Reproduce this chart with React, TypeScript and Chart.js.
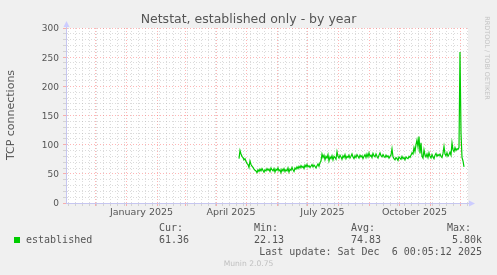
import React, { useEffect, useRef } from "react";
import { Chart, registerables } from "chart.js";

Chart.register(...registerables);

// Days counted from 1 Jan 2025 (day 0)
const seriesStartDay = 113;
const established: number[] = [
  76, 90, 84, 80, 78, 74, 76, 71, 68, 66, 61, 72, 66,
  63, 61, 58, 56, 55, 52, 57, 54, 58, 55, 59, 56, 53, 57, 55,
  59, 56, 58, 54, 60, 57, 55, 59, 53, 58, 56, 60, 55, 57, 52, 58, 55, 59, 54, 57,
  55, 60, 53, 58, 56, 61, 57, 54, 60, 58, 62, 59, 63, 60, 64, 61, 63, 59, 65, 62,
  66, 62, 64, 61, 63, 66, 62, 65, 63, 60, 64, 67, 63, 69, 72,
  84,
  78, 82, 74, 80, 77, 83, 72, 79, 76, 81, 74, 80, 78, 75,
  88,
  80, 77, 82, 79, 75, 81, 78, 83, 76, 80, 78, 82, 77, 80, 84, 79, 76, 81, 78, 83, 80, 77, 82, 79, 81, 76, 80, 83, 78,
  84, 79, 86, 80, 82, 78, 85, 81, 79, 84, 80, 77, 82, 86, 81, 79, 83, 80, 78, 82, 79, 81, 77, 80, 82, 93, 79, 76,
  74, 78, 76, 73, 79, 77, 75, 80, 76, 78, 74, 79, 77, 76, 80, 78, 82, 86, 84, 95, 88, 100,
  108, 96, 114, 85, 103, 80, 77, 91, 82, 79,
  84, 78, 86, 80, 77, 83, 79, 76, 82, 85, 80, 83, 81, 84, 80, 78, 85, 97, 84, 81,
  86, 80, 83, 87, 82, 103, 91, 88, 95, 90, 93, 92,
  95, 259, 120, 78, 72, 62,
];

const xMin = -60;
const xMax = 342;
const monthStartDays = [-61, -31, 0, 31, 59, 90, 120, 151, 181, 212, 243, 273, 304, 334];
const firstMondayDay = -58;
const xLabelDays = [15.5, 105, 196.5, 288.5];
const xLabelTexts = ["January 2025", "April 2025", "July 2025", "October 2025"];
const yMax = 300;
const yMinorStep = 10;
const yMajorStep = 50;

const legendName = "established";
const statHeads = ["Cur:", "Min:", "Avg:", "Max:"];
const statValues = ["61.36", "22.13", "74.83", "5.80k"];
const lastUpdate = "Last update: Sat Dec  6 00:05:12 2025";

const GREEN = "#00cc00";
const MAJOR = "rgba(255,90,90,0.45)";
const MINOR = "rgba(160,160,160,0.38)";
const AXIS = "#c6c6f0";
const TXT = "#555555";

export default function App() {
  const ref = useRef<HTMLCanvasElement | null>(null);

  useEffect(() => {
    if (!ref.current) return;
    const data = established.map((v, i) => ({ x: seriesStartDay + i, y: v }));

    const weekTicks: number[] = [];
    for (let d = firstMondayDay; d <= xMax; d += 7) if (d >= xMin) weekTicks.push(d);
    const monthSet = new Set(monthStartDays.filter((d) => d > xMin && d <= xMax));
    const labelMap = new Map<number, string>();
    xLabelDays.forEach((d, i) => labelMap.set(d, xLabelTexts[i]));
    const allX = Array.from(new Set([...weekTicks, ...monthSet, ...xLabelDays])).sort((a, b) => a - b);

    const xColor = (v: number) => (labelMap.has(v) ? "rgba(0,0,0,0)" : monthSet.has(v) ? MAJOR : MINOR);
    const yColor = (v: number) => (v % yMajorStep === 0 ? MAJOR : MINOR);

    const bgPlugin = {
      id: "plotbg",
      beforeDraw(chart: any) {
        const { ctx, chartArea: a } = chart;
        ctx.save();
        ctx.fillStyle = "#ffffff";
        ctx.fillRect(a.left, a.top, a.right - a.left, a.bottom - a.top);
        ctx.restore();
      },
      afterDraw(chart: any) {
        const { ctx, chartArea: a } = chart;
        const x0 = Math.round(a.left) + 0.5;
        const y0 = Math.round(a.bottom) + 0.5;
        ctx.save();
        ctx.strokeStyle = AXIS;
        ctx.lineWidth = 1;
        ctx.beginPath();
        ctx.moveTo(x0, a.top);
        ctx.lineTo(x0, a.top - 4);
        ctx.moveTo(a.right, y0);
        ctx.lineTo(a.right + 4, y0);
        ctx.stroke();
        ctx.fillStyle = "#ccccff";
        ctx.beginPath();
        ctx.moveTo(x0, a.top - 7);
        ctx.lineTo(x0 - 3, a.top - 1);
        ctx.lineTo(x0 + 3, a.top - 1);
        ctx.closePath();
        ctx.fill();
        ctx.beginPath();
        ctx.moveTo(a.right + 7, y0);
        ctx.lineTo(a.right + 1, y0 - 3);
        ctx.lineTo(a.right + 1, y0 + 3);
        ctx.closePath();
        ctx.fill();
        ctx.restore();
      },
    };

    const chart = new Chart(ref.current, {
      type: "line",
      data: {
        datasets: [
          {
            label: legendName,
            data,
            borderColor: GREEN,
            borderWidth: 1.2,
            pointRadius: 0,
            tension: 0,
            fill: false,
          },
        ],
      },
      options: {
        animation: false,
        responsive: false,
        devicePixelRatio: 1,
        parsing: false,
        layout: { padding: { top: 28, right: 29, left: 0, bottom: 0 } },
        plugins: { legend: { display: false }, tooltip: { enabled: false }, title: { display: false } },
        font: { family: "'DejaVu Sans'" },
        scales: {
          x: {
            type: "linear",
            min: xMin,
            max: xMax,
            afterBuildTicks: (scale: any) => {
              scale.ticks = allX.map((v) => ({ value: v }));
            },
            afterFit: (scale: any) => {
              scale.height = 72;
            },
            ticks: {
              autoSkip: false,
              maxRotation: 0,
              padding: 1,
              color: TXT,
              font: { family: "'DejaVu Sans'", size: 9.5 },
              callback: (v: any) => labelMap.get(Number(v)) ?? "",
            },
            grid: {
              color: (c: any) => xColor(c.tick.value),
              tickColor: (c: any) => xColor(c.tick.value),
              tickLength: 3,
              lineWidth: 1,
              tickBorderDash: [],
            },
            border: { display: true, color: AXIS, width: 1, dash: [1, 2] },
          },
          y: {
            type: "linear",
            min: 0,
            max: yMax,
            afterFit: (scale: any) => {
              scale.width = 66;
            },
            ticks: {
              stepSize: yMinorStep,
              autoSkip: false,
              padding: 4,
              labelOffset: 1,
              color: TXT,
              font: { family: "'DejaVu Sans'", size: 9 },
              callback: (v: any) => (Number(v) % yMajorStep === 0 ? String(v) : ""),
            },
            grid: {
              color: (c: any) => yColor(c.tick.value),
              tickColor: (c: any) => yColor(c.tick.value),
              tickLength: 3,
              lineWidth: 1,
              tickBorderDash: [],
            },
            border: { display: true, color: AXIS, width: 1, dash: [1, 2] },
          },
        },
      } as any,
      plugins: [bgPlugin],
    });
    return () => chart.destroy();
  }, []);

  const mono: React.CSSProperties = {
    position: "absolute",
    fontFamily: "'DejaVu Sans Mono', monospace",
    fontSize: 10,
    lineHeight: "12px",
    color: TXT,
    whiteSpace: "pre",
  };
  const statLefts = [159, 254, 351];

  return (
    <div
      style={{
        position: "absolute",
        left: 0,
        top: 0,
        width: 497,
        height: 275,
        background: "#f0f0f0",
        overflow: "hidden",
        fontFamily: "'DejaVu Sans', sans-serif",
      }}
    >
      <canvas ref={ref} width={497} height={275} style={{ position: "absolute", left: 0, top: 0, width: 497, height: 275 }} />
      <div
        style={{
          position: "absolute",
          left: 0,
          width: 497,
          top: 11,
          textAlign: "center",
          fontSize: 12.5,
          lineHeight: "15px",
          color: TXT,
        }}
      >
        Netstat, established only - by year
      </div>
      <div
        style={{
          position: "absolute",
          left: 11 - 60,
          top: 115 - 7,
          width: 120,
          textAlign: "center",
          fontSize: 11,
          lineHeight: "14px",
          color: TXT,
          transform: "rotate(-90deg)",
          whiteSpace: "nowrap",
        }}
      >
        TCP connections
      </div>
      <div
        style={{
          position: "absolute",
          left: 487 - 60,
          top: 58 - 5,
          width: 120,
          textAlign: "center",
          fontSize: 6.5,
          lineHeight: "10px",
          color: "#c4c4c4",
          transform: "rotate(90deg)",
          whiteSpace: "nowrap",
        }}
      >
        RRDTOOL / TOBI OETIKER
      </div>
      {statHeads.slice(0, 3).map((h, i) => (
        <div key={h} style={{ ...mono, left: statLefts[i], top: 222 }}>{h}</div>
      ))}
      <div style={{ ...mono, right: 497 - 471, top: 222 }}>{statHeads[3]}</div>
      <div style={{ position: "absolute", left: 14, top: 237, width: 6, height: 6, background: GREEN }} />
      <div style={{ ...mono, left: 26, top: 234 }}>{legendName}</div>
      {statValues.slice(0, 3).map((v, i) => (
        <div key={v} style={{ ...mono, left: statLefts[i], top: 234 }}>{v}</div>
      ))}
      <div style={{ ...mono, right: 497 - 482, top: 234 }}>{statValues[3]}</div>
      <div style={{ ...mono, right: 497 - 482, top: 246 }}>{lastUpdate}</div>
      <div
        style={{
          position: "absolute",
          left: 0,
          width: 497,
          top: 259,
          textAlign: "center",
          fontSize: 7.6,
          lineHeight: "10px",
          color: "#c0c0c0",
        }}
      >
        Munin 2.0.75
      </div>
    </div>
  );
}
